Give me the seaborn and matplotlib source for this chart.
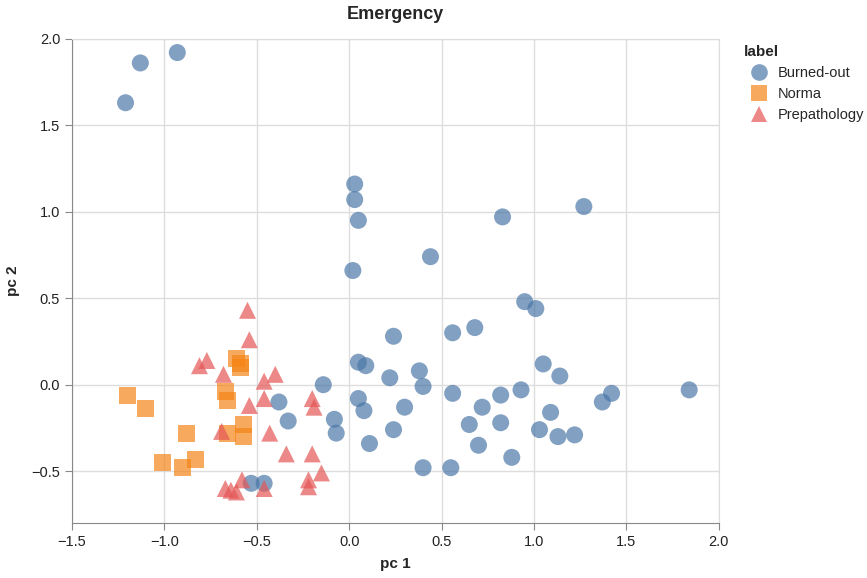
import numpy as np
import pandas as pd
import matplotlib
matplotlib.use('Agg')
import matplotlib.pyplot as plt
import seaborn as sns

# principal components
burned_pc1 = [-1.21, -1.13, -0.93, 0.03, 0.03, 0.05, 0.02, 0.44, 0.83, 1.27,
              0.95, 1.01, 0.68, 0.56, 0.24, 0.05, 0.09, 0.38, 0.22, 1.05,
              1.14, -0.14, 0.40, 0.56, 0.82, 0.93, 1.42, 1.37, 1.84, 0.05,
              0.08, 0.30, 0.72, -0.08, -0.07, 0.24, 0.11, 0.65, 0.82, 1.09,
              1.03, 1.13, 1.22, 0.70, 0.88, 0.40, 0.55, -0.38, -0.33, -0.53,
              -0.46]
burned_pc2 = [1.63, 1.86, 1.92, 1.16, 1.07, 0.95, 0.66, 0.74, 0.97, 1.03,
              0.48, 0.44, 0.33, 0.30, 0.28, 0.13, 0.11, 0.08, 0.04, 0.12,
              0.05, 0.00, -0.01, -0.05, -0.06, -0.03, -0.05, -0.10, -0.03, -0.08,
              -0.15, -0.13, -0.13, -0.20, -0.28, -0.26, -0.34, -0.23, -0.22, -0.16,
              -0.26, -0.30, -0.29, -0.35, -0.42, -0.48, -0.48, -0.10, -0.21, -0.57,
              -0.57]

norma_pc1 = [-1.20, -1.10, -0.88, -1.01, -0.90, -0.83, -0.61, -0.59, -0.59,
             -0.67, -0.66, -0.66, -0.57, -0.57]
norma_pc2 = [-0.06, -0.14, -0.28, -0.45, -0.48, -0.43, 0.15, 0.12, 0.10,
             -0.04, -0.09, -0.28, -0.23, -0.30]

prep_pc1 = [-0.55, -0.54, -0.81, -0.77, -0.68, -0.46, -0.40, -0.46, -0.54,
            -0.20, -0.19, -0.43, -0.69, -0.34, -0.20, -0.15, -0.22, -0.22,
            -0.58, -0.67, -0.64, -0.61, -0.46]
prep_pc2 = [0.43, 0.26, 0.11, 0.14, 0.06, 0.02, 0.06, -0.08, -0.12,
            -0.08, -0.13, -0.28, -0.27, -0.40, -0.40, -0.51, -0.55, -0.59,
            -0.55, -0.60, -0.61, -0.62, -0.60]

labels = ['Burned-out', 'Norma', 'Prepathology']
colors = ['#4c78a8', '#f58518', '#e45756']

df = pd.DataFrame({
    'pc 1': burned_pc1 + norma_pc1 + prep_pc1,
    'pc 2': burned_pc2 + norma_pc2 + prep_pc2,
    'label': ['Burned-out'] * len(burned_pc1) + ['Norma'] * len(norma_pc1)
             + ['Prepathology'] * len(prep_pc1),
})

sns.set_style('white')
plt.rcParams['font.family'] = ['Liberation Sans', 'DejaVu Sans']

fig = plt.figure(figsize=(8.67, 5.78), dpi=100)
ax = fig.add_axes([0.083, 0.095, 0.746, 0.838])

sns.scatterplot(data=df, x='pc 1', y='pc 2', hue='label', style='label',
                hue_order=labels, style_order=labels,
                palette=dict(zip(labels, colors)),
                markers={'Burned-out': 'o', 'Norma': 's', 'Prepathology': '^'},
                s=150, alpha=0.7, linewidth=0, ax=ax)

ax.set_xlim(-1.5, 2.0)
ax.set_ylim(-0.8, 2.0)
ax.set_xticks(np.arange(-1.5, 2.01, 0.5))
ax.set_yticks(np.arange(-0.5, 2.01, 0.5))
ax.set_xticklabels([f'{v:.1f}'.replace('-', '\u2212') for v in ax.get_xticks()])
ax.set_yticklabels([f'{v:.1f}'.replace('-', '\u2212') for v in ax.get_yticks()])
ax.grid(True, color='#dddddd', linewidth=1)
ax.set_axisbelow(True)
for side in ['top', 'right']:
    ax.spines[side].set_color('#dddddd')
for side in ['left', 'bottom']:
    ax.spines[side].set_color('#888888')
ax.tick_params(axis='both', length=5, color='#888888', labelsize=10.5,
               labelcolor='#222222', direction='out', left=True, bottom=True)

ax.set_xlabel('pc 1', fontsize=11, fontweight='bold', labelpad=6)
ax.set_ylabel('pc 2', fontsize=11, fontweight='bold', labelpad=8)
ax.set_title('Emergency', fontsize=13, fontweight='bold', pad=14)

leg = ax.legend(title='label', loc='upper left', bbox_to_anchor=(1.03, 1.0),
                frameon=False, fontsize=10.5, title_fontsize=11,
                handletextpad=0.3, labelspacing=0.5, borderaxespad=0.0)
leg.get_title().set_fontweight('bold')
leg._legend_box.align = 'left'
for h in leg.legend_handles:
    h.set_alpha(0.7)
    h.set_markersize(12)

fig.savefig('out.png', dpi=100)
